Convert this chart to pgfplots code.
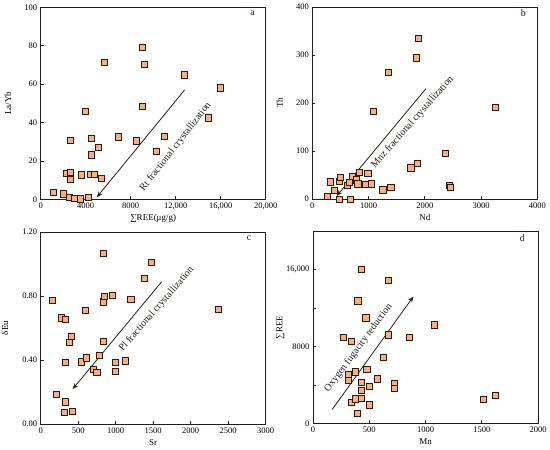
\documentclass[border=0pt]{standalone}
\usepackage{fontspec}
\setmainfont{Liberation Serif}
\usepackage{pgfplots}
\pgfplotsset{compat=1.18}
\usetikzlibrary{arrows.meta}

\definecolor{mfill}{RGB}{248,174,126}
\definecolor{ink}{RGB}{40,28,22}

\pgfplotsset{
  panel/.style={
    scale only axis, width=225pt, height=192pt,
    axis line style={ink, line width=0.9pt},
    tick align=inside, tick pos=left, major tick length=3pt,
    tick style={ink, line width=0.7pt},
    ticklabel style={font=\fontsize{8.5}{10}\selectfont},
    label style={font=\fontsize{9}{11}\selectfont},
    /pgf/number format/assume math mode=true,
    /pgf/number format/1000 sep={},
    scaled ticks=false, clip=false,
    xlabel style={at={(axis description cs:0.5,-0.06)}, anchor=north},
    ylabel style={at={(axis description cs:-0.145,0.5)}, anchor=center},
  },
  pts/.style={only marks, mark=square*, mark size=3.1pt,
    mark options={fill=mfill, draw=ink, line width=0.7pt}},
}
\tikzset{
  trend/.style={ink, line width=0.8pt, -{Stealth[length=6pt,width=4.5pt]}},
  note/.style={font=\fontsize{10}{12}\selectfont, ink},
  tag/.style={font=\fontsize{10}{12}\selectfont, ink},
}

\begin{document}
\begin{tikzpicture}
\useasboundingbox (0,0) rectangle (550pt,450pt);

% a
\begin{axis}[panel, at={(40.7pt,250.7pt)}, anchor=south west,
  xmin=0, xmax=20000, ymin=0, ymax=100,
  xtick={0,4000,...,20000}, xticklabels={0,4000,8000,{12,000},{16,000},{20,000}},
  ytick={0,20,...,100},
  xlabel={∑REE(μg/g)}, ylabel={La/Yb}]
\addplot[pts] coordinates {
(1126,3.5) (2015,2.8) (2281,13.5) (2607,14.1) (2607,10.4) (2667,30.9)
(2519,1.0) (3022,0.5) (3556,0.2) (3644,12.7) (3941,46) (4207,1.0)
(4385,12.8) (4800,12.8) (4533,23.1) (4533,31.6) (5156,27.1) (5393,10.8)
(5689,71.5) (6904,32.5) (8533,30.4) (9007,48.6) (9007,79) (9244,70.3)
(10311,25) (11022,32.8) (12800,64.8) (14904,42.4) (16000,58)
};
\draw[trend] (axis cs:12800,57) -- (axis cs:4978,1);
\node[note, rotate=52] at (axis cs:12000,27.4) {Rt fractional crystallization};
\node[tag] at (rel axis cs:0.942,0.968) {a};
\end{axis}

% b
\begin{axis}[panel, at={(312.3pt,251pt)}, anchor=south west,
  xmin=0, xmax=4000, ymin=0, ymax=400,
  xtick={0,1000,...,4000}, ytick={0,100,...,400},
  xlabel={Nd}, ylabel={Th}]
\addplot[pts] coordinates {
(273,6.3) (315,35.7) (392,17.5) (475,36.4) (499,45.5) (475,0) (678,0)
(630,28) (654,34) (713,47) (779,40) (808,31.5) (838,55) (939,30)
(987,53) (1046,31.5) (1082,182.5) (1254,19) (1355,264) (1397,25)
(1753,65) (1854,294) (1872,74) (1890,335) (2371,94.4) (2443,28.7)
(2449,24.5) (3257,191.6)
};
\draw[trend] (axis cs:2021,230) -- (axis cs:434,6.3);
\node[note, rotate=48.5] at (axis cs:1783,160) {Mnz fractional crystallization};
\node[tag] at (rel axis cs:0.938,0.968) {b};
\end{axis}

% c
\begin{axis}[panel, at={(40.7pt,26pt)}, anchor=south west,
  xmin=0, xmax=3000, ymin=0, ymax=1.2,
  xtick={0,500,...,3000}, ytick={0,0.4,0.8,1.2},
  yticklabels={0.00,0.40,0.80,1.20},
  ylabel style={at={(axis description cs:-0.158,0.5)}},
  xlabel={Sr}, ylabel={δEu}]
\addplot[pts] coordinates {
(160,0.772) (213,0.185) (271,0.664) (333,0.655) (333,0.383) (333,0.139)
(311,0.071) (422,0.081) (377,0.512) (404,0.547) (537,0.389) (604,0.414)
(595,0.709) (706,0.341) (750,0.324) (777,0.431) (834,1.065) (834,0.518)
(839,0.763) (848,0.798) (954,0.805) (994,0.383) (994,0.327) (1132,0.395)
(1203,0.778) (1380,0.911) (1474,1.009) (2370,0.716)
};
\draw[trend] (axis cs:1611,0.888) -- (axis cs:426,0.218);
\node[note, rotate=49] at (axis cs:1545,0.717) {Pl fractional crystallization};
\node[tag] at (rel axis cs:0.926,0.967) {c};
\end{axis}

% d
\begin{axis}[panel, at={(313pt,26.7pt)}, anchor=south west,
  xmin=0, xmax=2000, ymin=0, ymax=20000,
  xtick={0,500,...,2000}, ytick={0,4000,...,20000},
  yticklabels={0,{},8000,{},{16,000},{}},
  xlabel={Mn}, ylabel={∑REE}]
\addplot[pts] coordinates {
(270,8974) (344,8522) (398,12765) (427,16070) (469,10991) (315,5113)
(315,4452) (374,5357) (478,5635) (427,4278) (430,3443) (499,3826)
(570,4626) (338,2157) (377,2539) (430,2609) (504,1913) (395,1043)
(626,6887) (671,14852) (671,9217) (858,8939) (1080,10261) (721,4139)
(721,3617) (1516,2470) (1620,2887)
};
\draw[trend] (axis cs:172,1461) -- (axis cs:893,13217);
\node[note, rotate=53.6] at (axis cs:404,7826) {Oxygen fugacity reduction};
\node[tag] at (rel axis cs:0.93,0.967) {d};
\end{axis}
\end{tikzpicture}
\end{document}
